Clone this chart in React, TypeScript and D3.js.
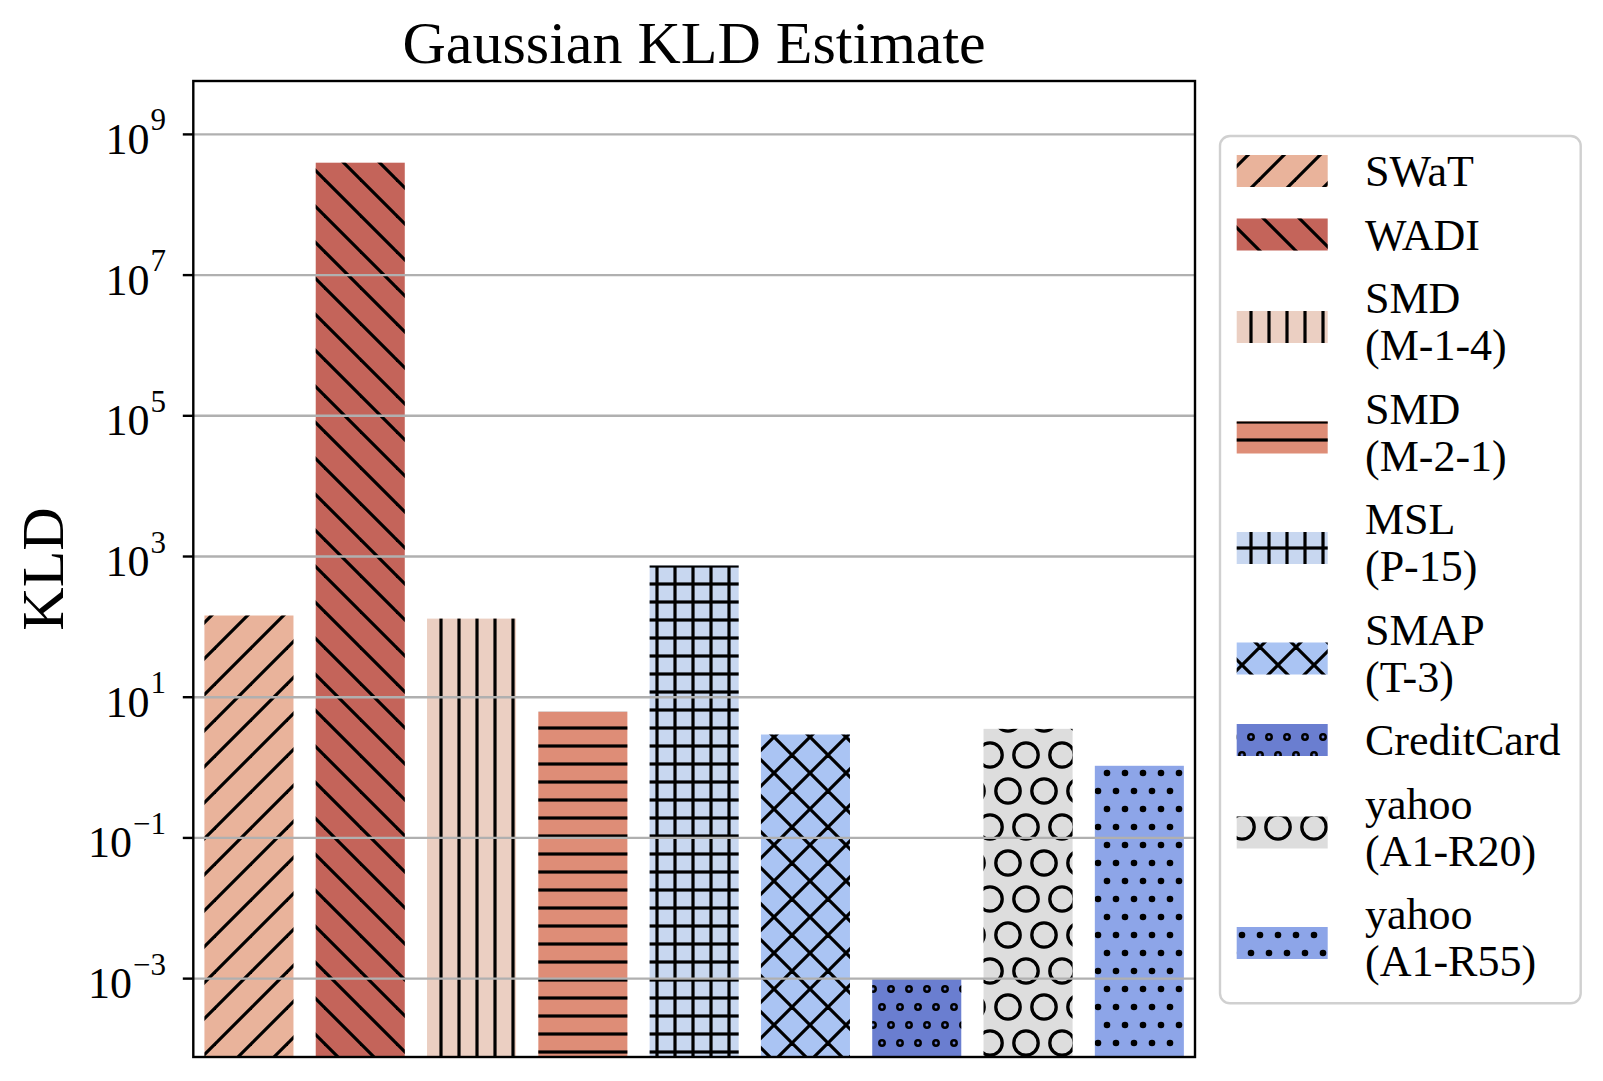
import * as d3 from 'd3'

// Gaussian KLD estimate per dataset (log scale)
const datasets = [
  'SWaT',
  'WADI',
  'SMD\n(M-1-4)',
  'SMD\n(M-2-1)',
  'MSL\n(P-15)',
  'SMAP\n(T-3)',
  'CreditCard',
  'yahoo\n(A1-R20)',
  'yahoo\n(A1-R55)',
]
const kldValues = [145, 3.96e8, 131, 6.2, 745, 2.95, 0.001, 3.55, 1.06]
const barColors = [
  '#E9B39B', '#C4645A', '#EBCFC2', '#DE8D77', '#C8D7F0',
  '#AAC4F3', '#6A7ED0', '#DDDDDD', '#8DA5E8',
]
const hatches = ['//', '\\\\', '||', '--', '++', 'xx', 'oo', 'O', '..']
const yTickExponents = [-3, -1, 1, 3, 5, 7, 9]
const yDomainExp: [number, number] = [-4.114, 9.759]

const W = 1603
const H = 1081
const plot = { left: 193.3, right: 1195, top: 81, bottom: 1057 }
const FONT = '"Liberation Serif", "Times New Roman", Times, serif'
const HATCH_W = 3.2
const HATCH_OY = -1

function hatchId(code: string) {
  return 'hatch-' + hatches.indexOf(code)
}

function line(x1: number, y1: number, x2: number, y2: number, key: string, w = HATCH_W) {
  return <line key={key} x1={x1} y1={y1} x2={x2} y2={y2} stroke="#000" strokeWidth={w} />
}

function neLines(s: number) {
  return [
    line(0, s, s, 0, 'ne1'),
    line(-s / 4, s / 4, s / 4, -s / 4, 'ne2'),
    line(s * 0.75, s * 1.25, s * 1.25, s * 0.75, 'ne3'),
  ]
}
function seLines(s: number) {
  return [
    line(0, 0, s, s, 'se1'),
    line(-s / 4, s * 0.75, s / 4, s * 1.25, 'se2'),
    line(s * 0.75, -s / 4, s * 1.25, s / 4, 'se3'),
  ]
}
function staggered(d: number, r: number, filled: boolean, sw: number) {
  const pts: [number, number][] = [[0, 0], [d, 0], [0, 2 * d], [d, 2 * d], [d / 2, d]]
  return pts.map(([cx, cy], i) => (
    <circle key={'c' + i} cx={cx} cy={cy} r={r}
      fill={filled ? '#000' : 'none'} stroke={filled ? 'none' : '#000'} strokeWidth={sw} />
  ))
}

function HatchPattern({ code }: { code: string }) {
  let w = 36, h = 36
  let body: any[] = []
  if (code === '//') body = neLines(36)
  else if (code === '\\\\') body = seLines(36)
  else if (code === 'xx') body = [...neLines(36), ...seLines(36)]
  else if (code === '||') { w = h = 18; body = [line(9, -1, 9, 19, 'v')] }
  else if (code === '--') { w = h = 18; body = [line(-1, 9, 19, 9, 'h')] }
  else if (code === '++') { w = h = 18; body = [line(9, -1, 9, 19, 'v'), line(-1, 9, 19, 9, 'h')] }
  else if (code === 'oo') { w = 18; h = 36; body = staggered(18, 2.7, false, 2.5) }
  else if (code === 'O') { w = 36; h = 72; body = staggered(36, 12.2, false, 3.3) }
  else if (code === '..') { w = 18; h = 36; body = staggered(18, 3.3, true, 0) }
  return (
    <pattern id={hatchId(code)} patternUnits="userSpaceOnUse" x={0} y={HATCH_OY} width={w} height={h}>
      {body}
    </pattern>
  )
}

export default function App() {
  const x = d3.scaleBand<string>()
    .domain(datasets)
    .range([plot.left, plot.right])
    .paddingInner(0.2)
    .paddingOuter(0.1)

  const y = d3.scaleLog()
    .domain([10 ** yDomainExp[0], 10 ** yDomainExp[1]])
    .range([plot.bottom, plot.top])

  // legend layout: baseline of first line per entry
  const lineH = 47
  const entryGap = 16.5
  let cursor = 186
  const legendRows = datasets.map((label, i) => {
    const lines = label.split('\n')
    const baseline = cursor
    cursor += lines.length * lineH + entryGap
    const swatchTop = lines.length > 1 ? baseline - 2 : baseline - 31
    return { label, lines, baseline, swatchTop, i }
  })

  return (
    <svg width={W} height={H} style={{ position: 'absolute', left: 0, top: 0, background: '#fff' }}
      fontFamily={FONT}>
      <defs>
        {hatches.map(h => <HatchPattern key={h} code={h} />)}
      </defs>

      {/* bars */}
      {datasets.map((d, i) => {
        const bx = x(d) ?? 0
        const top = y(kldValues[i])
        return (
          <g key={d}>
            <rect x={bx} y={top} width={x.bandwidth()} height={plot.bottom - top} fill={barColors[i]} />
            <rect x={bx} y={top} width={x.bandwidth()} height={plot.bottom - top}
              fill={`url(#${hatchId(hatches[i])})`} />
          </g>
        )
      })}

      {/* grid (drawn over bars) */}
      {yTickExponents.map(e => (
        <line key={'g' + e} x1={plot.left} x2={plot.right} y1={y(10 ** e)} y2={y(10 ** e)}
          stroke="#b0b0b0" strokeWidth={2.4} />
      ))}

      {/* y ticks */}
      {yTickExponents.map(e => {
        const ty = y(10 ** e)
        return (
          <g key={'t' + e}>
            <line x1={plot.left - 10.5} x2={plot.left} y1={ty} y2={ty} stroke="#000" strokeWidth={2.4} />
            <text x={166} y={ty + 19.5} textAnchor="end" fontSize={44} fill="#000">
              10
              <tspan dx={1} dy={-23.5} fontSize={31}>{e < 0 ? '\u2212' + Math.abs(e) : String(e)}</tspan>
            </text>
          </g>
        )
      })}

      {/* spines */}
      <rect x={plot.left} y={plot.top} width={plot.right - plot.left} height={plot.bottom - plot.top}
        fill="none" stroke="#000" strokeWidth={2.4} />

      {/* title & axis label */}
      <text x={(plot.left + plot.right) / 2} y={63} textAnchor="middle" fontSize={60} fill="#000">
        Gaussian KLD Estimate
      </text>
      <text transform={`translate(63.3,${(plot.top + plot.bottom) / 2}) rotate(-90)`}
        textAnchor="middle" fontSize={60} fill="#000">
        KLD
      </text>

      {/* legend */}
      <rect x={1220} y={136} width={360.7} height={867.3} rx={10} ry={10}
        fill="#fff" fillOpacity={0.8} stroke="#d0d0d0" strokeWidth={2.4} />
      {legendRows.map(r => (
        <g key={'l' + r.i}>
          <rect x={1236.7} y={r.swatchTop} width={91} height={32} fill={barColors[r.i]} />
          <rect x={1236.7} y={r.swatchTop} width={91} height={32} fill={`url(#${hatchId(hatches[r.i])})`} />
          <text x={1365} y={r.baseline} fontSize={44} fill="#000">
            {r.lines.map((t, j) => (
              <tspan key={j} x={1365} y={r.baseline + j * lineH}>{t}</tspan>
            ))}
          </text>
        </g>
      ))}
    </svg>
  )
}
